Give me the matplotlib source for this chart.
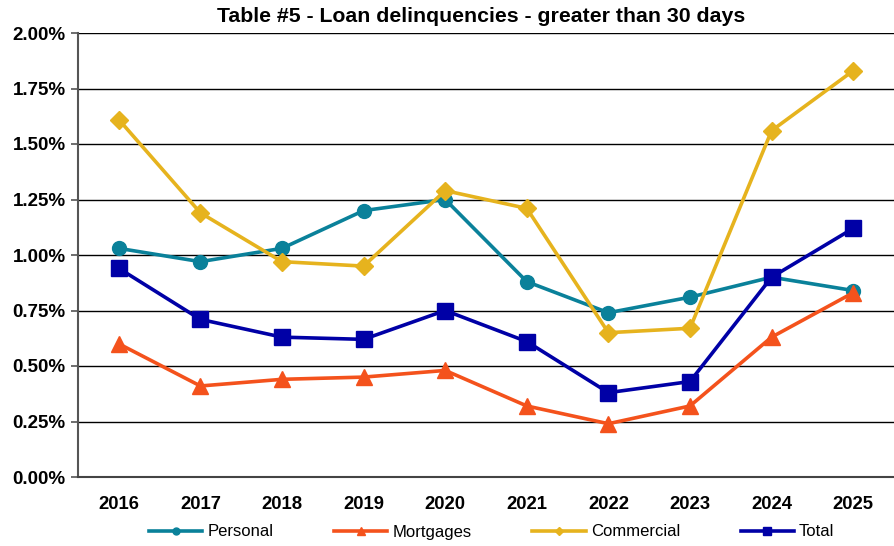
import matplotlib.pyplot as plt
from matplotlib.ticker import FuncFormatter

plt.rcParams['font.family'] = ['Liberation Sans', 'DejaVu Sans']

years = ['2016', '2017', '2018', '2019', '2020', '2021', '2022', '2023', '2024', '2025']
personal = [1.03, 0.97, 1.03, 1.20, 1.25, 0.88, 0.74, 0.81, 0.90, 0.84]
mortgages = [0.60, 0.41, 0.44, 0.45, 0.48, 0.32, 0.24, 0.32, 0.63, 0.83]
commercial = [1.61, 1.19, 0.97, 0.95, 1.29, 1.21, 0.65, 0.67, 1.56, 1.83]
total = [0.94, 0.71, 0.63, 0.62, 0.75, 0.61, 0.38, 0.43, 0.90, 1.12]

fig = plt.figure(figsize=(8.94, 5.46), dpi=100)
ax = fig.add_axes([78 / 894, 1 - 477 / 546, 816 / 894, 444 / 546])

x = range(len(years))
ax.plot(x, personal, color='#0A819A', lw=2.6, marker='o', ms=10, label='Personal')
ax.plot(x, mortgages, color='#F4521C', lw=2.6, marker='^', ms=12, label='Mortgages')
ax.plot(x, commercial, color='#E6B31E', lw=2.6, marker='D', ms=9, label='Commercial')
ax.plot(x, total, color='#0000A6', lw=2.6, marker='s', ms=12, label='Total')

ax.set_xlim(-0.5, len(years) - 0.5)
ax.set_ylim(0, 2.0)
ax.set_yticks([i * 0.25 for i in range(9)])
ax.yaxis.set_major_formatter(FuncFormatter(lambda v, p: f'{v:.2f}%'))
ax.set_xticks(list(x))
ax.set_xticklabels(years)
ax.grid(axis='y', color='black', lw=1)
ax.set_axisbelow(True)

for side in ['top', 'right']:
    ax.spines[side].set_visible(False)
ax.spines['left'].set_color('#555555')
ax.spines['left'].set_linewidth(1.5)
ax.spines['bottom'].set_color('#444444')
ax.spines['bottom'].set_linewidth(1.5)

ax.tick_params(axis='y', length=5, width=1.2, color='#555555', labelsize=13.5, pad=4)
ax.tick_params(axis='x', length=0, labelsize=13.3, pad=14)
for lbl in ax.get_xticklabels() + ax.get_yticklabels():
    lbl.set_fontweight('bold')

fig.text(481 / 894, 1 - 16 / 546, 'Table #5 - Loan delinquencies - greater than 30 days',
         ha='center', va='center', fontsize=15.3, fontweight='bold')

leg = fig.legend(loc='center', bbox_to_anchor=(0.55, 1 - 532 / 546), ncol=4,
                 frameon=False, fontsize=12, handlelength=3.2, columnspacing=3.65,
                 handletextpad=0.3, markerscale=0.5)

fig.savefig('out.png', dpi=100)
